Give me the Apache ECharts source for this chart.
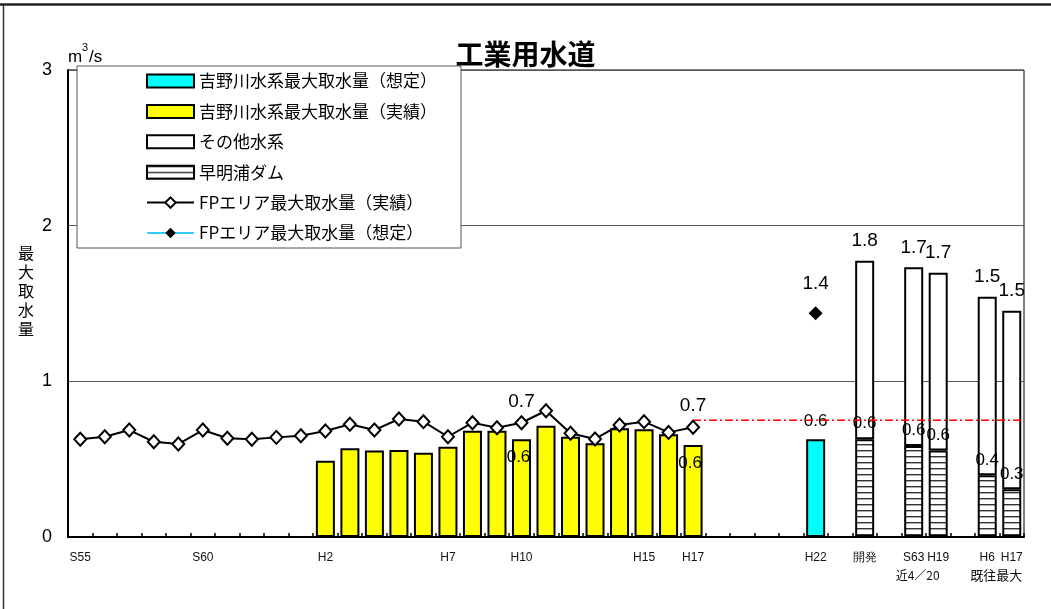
<!DOCTYPE html>
<html>
<head>
<meta charset="utf-8">
<script src="https://cdn.jsdelivr.net/npm/echarts@6/dist/echarts.min.js"></script>
<style>
  html, body { margin: 0; padding: 0; background: #fff; }
  #chart { width: 1051px; height: 609px; }
</style>
</head>
<body>
<div id="chart"></div>
<script>
// Categories along the x axis: fiscal years, then planning scenarios
const categories = ['S55','S56','S57','S58','S59','S60','S61','S62','S63','H1',
  'H2','H3','H4','H5','H6','H7','H8','H9','H10','H11','H12','H13','H14','H15','H16','H17',
  'H18','H19','H20','H21','H22','gap1','開発','gap2','近S63','近H19','gap3','既往H6','既往H17'];
// Tick labels printed under each category ('' = no label)
const tickLabels = ['S55','','','','','S60','','','','',
  'H2','','','','','H7','','','H10','','','','','H15','','H17',
  '','','','','H22','','開発','','S63','H19','','H6','H17'];
// Second-line captions under some ticks
const subLabelCats = ['近S63', '既往H6'];
const subLabelTexts = ['近4／20', '既往最大'];

// FP area maximum intake, actual (S55 .. H17), m3/s
const fpActual = [0.628, 0.644, 0.687, 0.612, 0.597, 0.687, 0.634, 0.628, 0.640, 0.651,
  0.681, 0.724, 0.687, 0.758, 0.741, 0.644, 0.734, 0.702, 0.734, 0.811,
  0.666, 0.630, 0.719, 0.741, 0.672, 0.705];
const fpActualLabelled = ['H10', 'H17'];
// Yoshino river system maximum intake, actual (H2 .. H17)
const yoshinoActual = [0.490, 0.570, 0.555, 0.559, 0.542, 0.580, 0.683, 0.683,
  0.628, 0.715, 0.644, 0.602, 0.698, 0.692, 0.660, 0.591];
const yoshinoActualLabelled = ['H10', 'H17'];
// Planned values for H22
const yoshinoPlanned = [0.628];
const fpPlanned = [1.437];
// Supply sources per scenario
const sourceCats = ['開発', '近S63', '近H19', '既往H6', '既往H17'];
const sameuraDam = [0.628, 0.585, 0.555, 0.396, 0.306];
const totalIntake = [1.775, 1.733, 1.698, 1.544, 1.454];
// Reference level drawn from H17 to the right edge
const referenceLevel = 0.75;
const referenceFrom = 'H17';

const NUM_FONT = "'Liberation Sans', Arial, sans-serif";
const NARROW_FONT = "'Liberation Sans Narrow', 'Liberation Sans', sans-serif";
const JP_FONT = "'Noto Sans CJK JP', sans-serif";

const catIndex = c => categories.indexOf(c);
function spreadFrom(values, firstCat) {
  const out = categories.map(() => '-');
  const s = catIndex(firstCat);
  values.forEach((v, k) => { out[s + k] = v; });
  return out;
}
function spreadAt(values, cats) {
  const out = categories.map(() => '-');
  cats.forEach((c, k) => { out[catIndex(c)] = values[k]; });
  return out;
}
function withLabels(data, labelledCats) {
  return data.map((v, i) => labelledCats.includes(categories[i]) ? { value: v, label: { show: true } } : v);
}
const oneDecimal = p => (+p.value).toFixed(1);

// horizontal hatching for the dam segment
const hatch = document.createElement('canvas');
hatch.width = 8; hatch.height = 6;
(function () {
  const ctx = hatch.getContext('2d');
  ctx.fillStyle = '#fff';
  ctx.fillRect(0, 0, 8, 6);
  ctx.fillStyle = '#333';
  ctx.fillRect(0, 0, 8, 1.4);
})();

const barBorder = { borderColor: '#000', borderWidth: 2 };
const otherData = categories.map(() => '-');
sourceCats.forEach((c, k) => {
  otherData[catIndex(c)] = {
    value: totalIntake[k] - sameuraDam[k],
    label: { show: true, formatter: totalIntake[k].toFixed(1) }
  };
});

const refStart = catIndex(referenceFrom) + 0.5;

const chart = echarts.init(document.getElementById('chart'));
chart.setOption({
  animation: false,
  backgroundColor: '#fff',
  title: {
    text: '工業用水道',
    left: 'center',
    top: 35,
    textStyle: { fontFamily: JP_FONT, fontSize: 28, fontWeight: 'bold', color: '#000' }
  },
  legend: {
    orient: 'vertical',
    left: 77,
    top: 66,
    padding: [6, 24, 6, 69],
    itemWidth: 47,
    itemHeight: 13,
    itemGap: 12.4,
    backgroundColor: '#fff',
    borderColor: '#555',
    borderWidth: 1,
    selectedMode: false,
    textStyle: { fontFamily: JP_FONT, fontSize: 17, lineHeight: 18, color: '#000' },
    data: [
      { name: '吉野川水系最大取水量（想定）', icon: 'rect' },
      { name: '吉野川水系最大取水量（実績）', icon: 'rect' },
      { name: 'その他水系', icon: 'rect' },
      { name: '早明浦ダム', icon: 'rect' },
      { name: 'FPエリア最大取水量（実績）' },
      { name: 'FPエリア最大取水量（想定）' }
    ]
  },
  grid: {
    left: 68, right: 27, top: 70, bottom: 72,
    show: true, borderColor: '#000', borderWidth: 1, backgroundColor: 'transparent'
  },
  xAxis: [{
    type: 'category',
    data: categories,
    boundaryGap: true,
    axisLine: { lineStyle: { color: '#000', width: 2 } },
    axisTick: { show: true, inside: true, length: 4, interval: 0, lineStyle: { color: '#000', width: 1.5 } },
    axisLabel: {
      interval: 0,
      margin: 12,
      fontFamily: NUM_FONT,
      fontSize: 12,
      lineHeight: 17,
      color: '#111',
      formatter: (value, index) => {
        let t = tickLabels[index];
        const k = subLabelCats.indexOf(value);
        if (k >= 0) t += '\n{s' + k + '|' + subLabelTexts[k] + '}';
        return t;
      },
      rich: {
        s0: { fontFamily: JP_FONT, fontSize: 12, lineHeight: 19, color: '#111', padding: [0, 0, 0, 8] },
        s1: { fontFamily: JP_FONT, fontSize: 13, lineHeight: 19, color: '#111', padding: [0, 0, 0, 18] }
      }
    }
  }, {
    type: 'value', min: 0, max: categories.length, show: false
  }],
  yAxis: {
    type: 'value',
    min: 0, max: 3, interval: 1,
    axisLine: { show: true, lineStyle: { color: '#000', width: 2 } },
    axisTick: { show: false },
    axisLabel: { fontFamily: NUM_FONT, fontSize: 18, color: '#000', margin: 16 },
    splitLine: { lineStyle: { color: '#555', width: 1 } }
  },
  graphic: [
    { type: 'line', shape: { x1: 0, y1: 4.5, x2: 1051, y2: 4.5 }, style: { stroke: '#222', lineWidth: 2.5 }, silent: true },
    { type: 'line', shape: { x1: 3.5, y1: 5, x2: 3.5, y2: 609 }, style: { stroke: '#333', lineWidth: 1.5 }, silent: true },
    { type: 'text', x: 26, y: 244, style: { text: '最\n大\n取\n水\n量', font: '16px ' + JP_FONT, lineHeight: 18.8, textAlign: 'center', fill: '#000' } },
    { type: 'text', x: 68, y: 49, style: { text: 'm', font: '17px ' + NARROW_FONT, fill: '#000' } },
    { type: 'text', x: 82, y: 42, style: { text: '3', font: '11px ' + NARROW_FONT, fill: '#000' } },
    { type: 'text', x: 89, y: 49, style: { text: '/s', font: '17px ' + NARROW_FONT, fill: '#000' } }
  ],
  series: [
    {
      name: '吉野川水系最大取水量（想定）',
      type: 'bar', stack: 'intake', barWidth: 19,
      itemStyle: Object.assign({ color: '#00ffff' }, barBorder),
      label: { show: true, position: 'top', distance: 9, formatter: oneDecimal, fontFamily: NUM_FONT, fontSize: 17, color: '#000' },
      data: spreadAt(yoshinoPlanned, ['H22'])
    },
    {
      name: '吉野川水系最大取水量（実績）',
      type: 'bar', stack: 'intake', barWidth: 19,
      itemStyle: Object.assign({ color: '#ffff00' }, barBorder),
      label: { show: false, position: 'insideTop', distance: 10, offset: [-3, 0], formatter: oneDecimal, fontFamily: NARROW_FONT, fontSize: 17, color: '#000' },
      data: withLabels(spreadFrom(yoshinoActual, 'H2'), yoshinoActualLabelled)
    },
    {
      name: '早明浦ダム',
      type: 'bar', stack: 'intake', barWidth: 19,
      itemStyle: Object.assign({ color: { image: hatch, repeat: 'repeat' } }, barBorder),
      label: { show: true, position: 'top', distance: 7, formatter: oneDecimal, fontFamily: NARROW_FONT, fontSize: 17, color: '#000' },
      data: spreadAt(sameuraDam, sourceCats)
    },
    {
      name: 'その他水系',
      type: 'bar', stack: 'intake', barWidth: 19,
      itemStyle: Object.assign({ color: '#fff' }, barBorder),
      label: { show: false, position: 'top', distance: 10, fontFamily: NUM_FONT, fontSize: 19, color: '#000' },
      data: otherData
    },
    {
      name: 'reference',
      type: 'line', xAxisIndex: 1, symbol: 'none', silent: true, z: 3,
      lineStyle: { color: '#ff0000', width: 1.5, type: [8, 3, 2, 3] },
      data: [[refStart, referenceLevel], [categories.length, referenceLevel]]
    },
    {
      name: 'FPエリア最大取水量（実績）',
      type: 'line', z: 4,
      symbol: 'diamond', symbolSize: [12, 13],
      lineStyle: { color: '#000', width: 2 },
      itemStyle: { color: '#fff', borderColor: '#000', borderWidth: 2 },
      label: { show: false, position: 'top', distance: 4, formatter: oneDecimal, fontFamily: NUM_FONT, fontSize: 19, color: '#000' },
      data: withLabels(spreadFrom(fpActual, 'S55'), fpActualLabelled)
    },
    {
      name: 'FPエリア最大取水量（想定）',
      type: 'line', z: 4,
      symbol: 'diamond', symbolSize: 14,
      lineStyle: { color: '#33ccff', width: 2 },
      itemStyle: { color: '#000', borderColor: '#000', borderWidth: 0 },
      label: { show: true, position: 'top', distance: 13, formatter: oneDecimal, fontFamily: NUM_FONT, fontSize: 19, color: '#000' },
      data: spreadAt(fpPlanned, ['H22'])
    }
  ]
});
</script>
</body>
</html>
